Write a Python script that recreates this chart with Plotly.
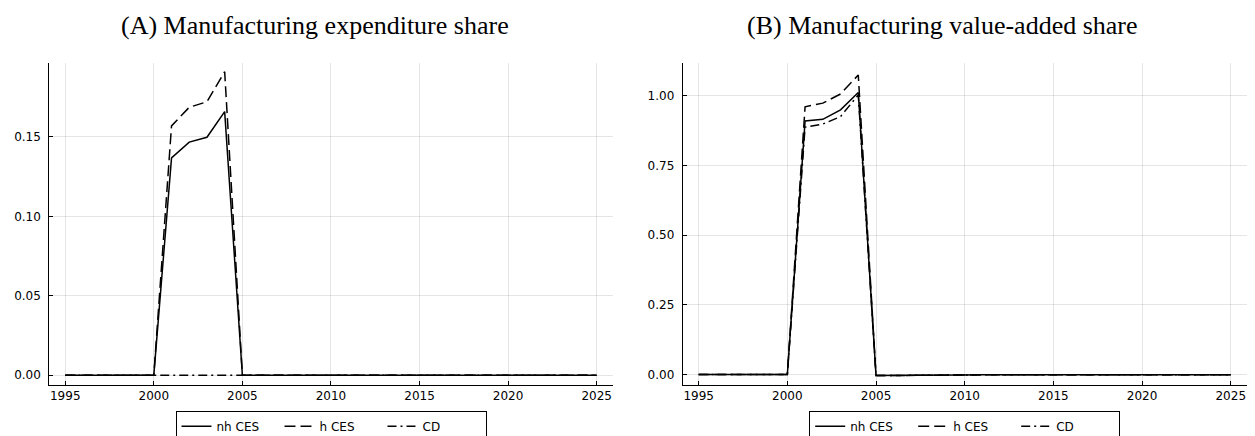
import plotly.graph_objects as go

years = list(range(1995, 2026))

# Panel A: manufacturing expenditure share
exp_nh_ces = [0.0, 0.0, 0.0, 0.0, 0.0, 0.0,
              0.1368, 0.1468, 0.1498, 0.1660,
              0.0, 0.0, 0.0, 0.0, 0.0, 0.0, 0.0, 0.0, 0.0, 0.0, 0.0,
              0.0, 0.0, 0.0, 0.0, 0.0, 0.0, 0.0, 0.0, 0.0, 0.0]
exp_h_ces = [0.0, 0.0, 0.0, 0.0, 0.0, 0.0,
             0.1570, 0.1687, 0.1722, 0.1911,
             0.0, 0.0, 0.0, 0.0, 0.0, 0.0, 0.0, 0.0, 0.0, 0.0, 0.0,
             0.0, 0.0, 0.0, 0.0, 0.0, 0.0, 0.0, 0.0, 0.0, 0.0]
exp_cd = [0.0, 0.0, 0.0, 0.0, 0.0, 0.0,
          0.0, 0.0, 0.0, 0.0,
          0.0, 0.0, 0.0, 0.0, 0.0, 0.0, 0.0, 0.0, 0.0, 0.0, 0.0,
          0.0, 0.0, 0.0, 0.0, 0.0, 0.0, 0.0, 0.0, 0.0, 0.0]

# Panel B: manufacturing value-added share
va_nh_ces = [0.0, 0.0, 0.0, 0.0, 0.0, 0.0,
             0.909, 0.915, 0.949, 1.011,
             -0.004, -0.004, -0.003, -0.003, -0.002, -0.002, -0.001, -0.001, -0.001, -0.001, -0.001,
             -0.001, -0.001, -0.001, -0.001, -0.001, -0.001, -0.001, -0.001, -0.001, -0.001]
va_h_ces = [0.0, 0.0, 0.0, 0.0, 0.0, 0.0,
            0.960, 0.973, 1.006, 1.074,
            -0.004, -0.004, -0.003, -0.003, -0.002, -0.002, -0.001, -0.001, -0.001, -0.001, -0.001,
            -0.001, -0.001, -0.001, -0.001, -0.001, -0.001, -0.001, -0.001, -0.001, -0.001]
va_cd = [0.0, 0.0, 0.0, 0.0, 0.0, 0.0,
         0.887, 0.898, 0.925, 1.0025,
         -0.004, -0.004, -0.003, -0.003, -0.002, -0.002, -0.001, -0.001, -0.001, -0.001, -0.001,
         -0.001, -0.001, -0.001, -0.001, -0.001, -0.001, -0.001, -0.001, -0.001, -0.001]

series_names = ["nh CES", "h CES", "CD"]
dashes = ["solid", "11px,5px", "9px,4px,2px,4px"]

titles = ["(A) Manufacturing expenditure share", "(B) Manufacturing value-added share"]
x_ticks = [1995, 2000, 2005, 2010, 2015, 2020, 2025]
yticks_a = [0.00, 0.05, 0.10, 0.15]
yticks_b = [0.00, 0.25, 0.50, 0.75, 1.00]

W, H = 1255, 436
fig = go.Figure()

panels = [
    ([exp_nh_ces, exp_h_ces, exp_cd], "x", "y", "legend"),
    ([va_nh_ces, va_h_ces, va_cd], "x2", "y2", "legend2"),
]
for data, xa, ya, lg in panels:
    for name, vals, dash in zip(series_names, data, dashes):
        fig.add_trace(go.Scatter(
            x=years, y=vals, mode="lines", name=name,
            line=dict(color="black", width=1.5, dash=dash),
            xaxis=xa, yaxis=ya, legend=lg,
        ))

font_tick = dict(family="DejaVu Sans", size=12, color="black")
axis_common = dict(
    showline=True, linecolor="black", linewidth=1,
    showgrid=True, gridcolor="rgba(0,0,0,0.1)", gridwidth=1,
    ticks="inside", ticklen=4, tickcolor="black", tickwidth=1,
    zeroline=False, tickfont=font_tick, mirror=False, automargin=False,
)

yd = [1 - 384.5 / H, 1 - 63 / H]
legend_common = dict(
    orientation="h", xanchor="center", y=1 - 410.7 / H, yanchor="top",
    bordercolor="black", borderwidth=1,
    font=dict(family="DejaVu Sans", size=12, color="black"),
    entrywidth=58, entrywidthmode="pixels", bgcolor="white",
)
fig.update_layout(
    width=W, height=H,
    margin=dict(l=0, r=0, t=0, b=0, autoexpand=False),
    paper_bgcolor="white", plot_bgcolor="white",
    xaxis=dict(domain=[49.3 / W, 612.6 / W], range=[1994.1, 2025.9],
               tickvals=x_ticks, anchor="y", **axis_common),
    yaxis=dict(domain=yd, range=[-0.0059, 0.1966], tickvals=yticks_a,
               tickformat=".2f", anchor="x", ticklabelstandoff=5, **axis_common),
    xaxis2=dict(domain=[682.7 / W, 1246.7 / W], range=[1994.1, 2025.9],
                tickvals=x_ticks, anchor="y2", **axis_common),
    yaxis2=dict(domain=yd, range=[-0.036, 1.117], tickvals=yticks_b,
                tickformat=".2f", anchor="x2", ticklabelstandoff=5, **axis_common),
    legend=dict(x=331 / W, **legend_common),
    legend2=dict(x=964.7 / W, **legend_common),
    showlegend=True,
)

for t, xc in zip(titles, [315 / W, 943 / W]):
    fig.add_annotation(text=t, x=xc, xref="paper", y=1 - 25 / H, yref="paper",
                       xanchor="center", yanchor="middle", showarrow=False,
                       font=dict(family="Liberation Serif", size=26, color="black"))

fig.write_html("out.html", config={"displayModeBar": False},
               post_script="document.body.style.margin='0';document.body.style.overflow='hidden';")
